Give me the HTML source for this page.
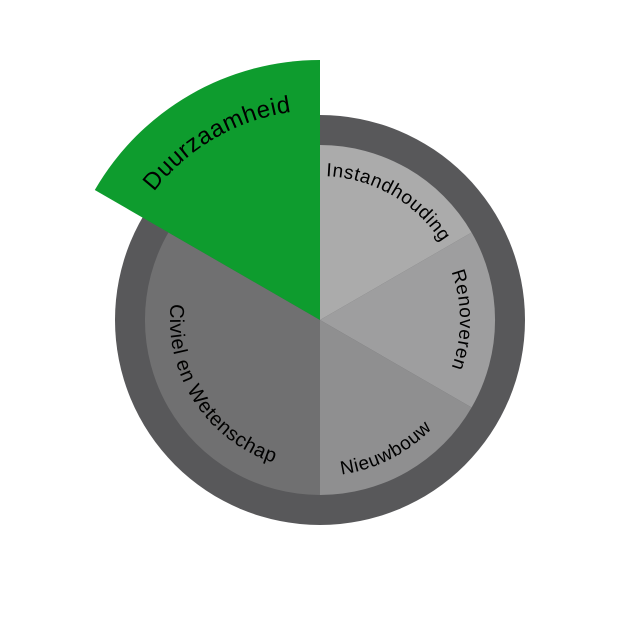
<!DOCTYPE html>
<html><head><meta charset="utf-8"><style>html,body{margin:0;padding:0;background:#fff}svg{display:block}</style></head>
<body>
<svg width="640" height="640" viewBox="0 0 640 640" xmlns="http://www.w3.org/2000/svg">
<defs>
<path id="pI" d="M320,176 A144,144 0 0 1 444.7,248"/>
<path id="pR" d="M441.2,250 A140,140 0 0 1 441.2,390"/>
<path id="pN" d="M320,476 A156,156 0 0 0 455.1,398"/>
<path id="pC" d="M179,268.7 A150,150 0 0 0 294,467.7"/>
<path id="pD" d="M148,200 A210,210 0 0 1 301.7,110.8"/>
</defs>
<circle cx="320" cy="320" r="205" fill="#58585a"/>
<path d="M320,320 L320,145 A175,175 0 0 1 471.6,232.5 Z" fill="#ababab"/>
<path d="M320,320 L471.6,232.5 A175,175 0 0 1 471.6,407.5 Z" fill="#9e9e9f"/>
<path d="M320,320 L471.6,407.5 A175,175 0 0 1 320,495 Z" fill="#8f8f90"/>
<path d="M320,320 L320,495 A175,175 0 0 1 168.4,232.5 Z" fill="#707071"/>
<path d="M320,320 L320,60 A260,260 0 0 0 94.8,190 Z" fill="#0e9c2e"/>
<g font-family="Liberation Sans, sans-serif" font-size="19" fill="#000" letter-spacing="0.6">
<text><textPath href="#pI" startOffset="50%" text-anchor="middle">Instandhouding</textPath></text>
<text><textPath href="#pR" startOffset="50%" text-anchor="middle">Renoveren</textPath></text>
<text><textPath href="#pN" startOffset="45%" text-anchor="middle">Nieuwbouw</textPath></text>
<text font-size="20"><textPath href="#pC" startOffset="53%" text-anchor="middle">Civiel en Wetenschap</textPath></text>
<text font-size="24"><textPath href="#pD" startOffset="50%" text-anchor="middle">Duurzaamheid</textPath></text>
</g>
</svg>
</body></html>
